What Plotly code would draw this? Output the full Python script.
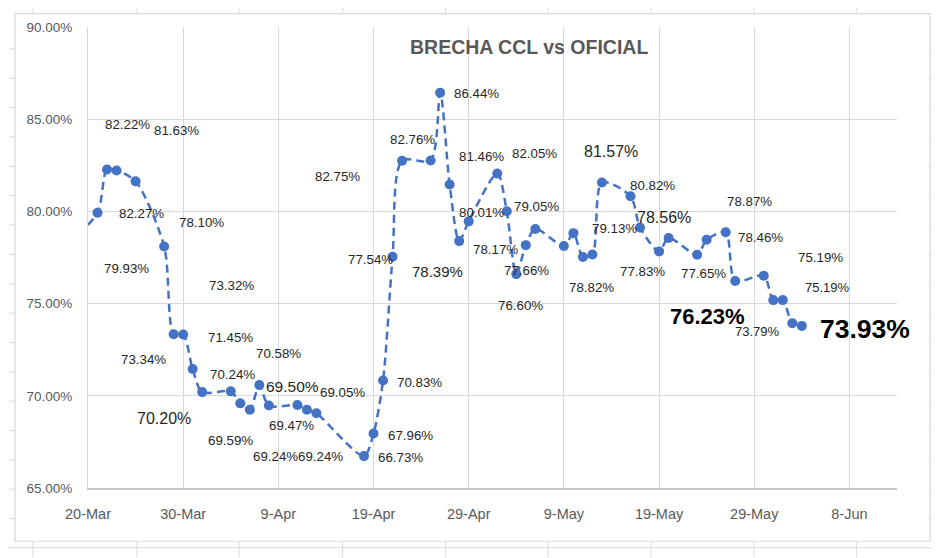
import plotly.graph_objects as go

# ---------------- data ----------------
dates = [
    "2022-03-18", "2022-03-21", "2022-03-22", "2022-03-23", "2022-03-25", "2022-03-28",
    "2022-03-29", "2022-03-30", "2022-03-31", "2022-04-01", "2022-04-04", "2022-04-05",
    "2022-04-06", "2022-04-07", "2022-04-08", "2022-04-11", "2022-04-12", "2022-04-13",
    "2022-04-18", "2022-04-19", "2022-04-20", "2022-04-21", "2022-04-22", "2022-04-25",
    "2022-04-26", "2022-04-27", "2022-04-28", "2022-04-29", "2022-05-02", "2022-05-03",
    "2022-05-04", "2022-05-05", "2022-05-06", "2022-05-09", "2022-05-10", "2022-05-11",
    "2022-05-12", "2022-05-13", "2022-05-16", "2022-05-17", "2022-05-19", "2022-05-20",
    "2022-05-23", "2022-05-24", "2022-05-26", "2022-05-27", "2022-05-30", "2022-05-31",
    "2022-06-01", "2022-06-02", "2022-06-03",
]
brecha = [
    78.30, 79.93, 82.27, 82.22, 81.63, 78.10,
    73.34, 73.32, 71.45, 70.20, 70.24, 69.59,
    69.24, 70.58, 69.47, 69.50, 69.24, 69.05,
    66.73, 67.96, 70.83, 77.54, 82.75, 82.76,
    86.44, 81.46, 78.39, 79.46, 82.05, 80.01,
    76.60, 78.17, 79.05, 78.12, 78.82, 77.53,
    77.66, 81.57, 80.82, 79.13, 77.83, 78.56,
    77.65, 78.46, 78.87, 76.23, 76.51, 75.19,
    75.19, 73.93, 73.79,
]

label_texts = [
    "82.22%", "81.63%", "82.27%", "78.10%", "79.93%", "73.32%", "71.45%", "73.34%",
    "70.58%", "70.24%", "69.50%", "69.59%", "70.20%", "69.47%", "69.24%", "69.24%",
    "69.05%", "66.73%", "67.96%", "70.83%", "77.54%", "78.39%", "82.75%", "82.76%",
    "86.44%", "81.46%", "82.05%", "80.01%", "79.05%", "78.17%", "77.66%", "76.60%",
    "78.82%", "81.57%", "79.13%", "80.82%", "78.56%", "77.83%", "77.65%", "78.87%",
    "78.46%", "75.19%", "75.19%", "76.23%", "73.79%", "73.93%",
]

title_text = "BRECHA CCL vs OFICIAL"

# ---------------- layout helpers (positions / styles) ----------------
OFF = 8                      # page body margin of the html page
PAGE_W, PAGE_H = 940, 558
W, H = PAGE_W - OFF, PAGE_H - OFF
ML, MR, MT, MB = 80, 43, 15, 70
PW, PH = W - ML - MR, H - MT - MB


def px(x):
    """page pixel x -> paper coordinate"""
    return (x - OFF - ML) / PW


def py(y):
    """page pixel y -> paper coordinate"""
    return (H - MB - (y - OFF)) / PH


# label placement in page pixels: (x, y, size, bold)
label_pos = [
    (127.5, 121, 13.3, False), (176, 127, 13.3, False), (141.5, 211, 13.3, False),
    (201, 220, 13.3, False), (126.7, 267, 13.3, False), (231.7, 284, 13.3, False),
    (230, 335.7, 13.3, False), (143, 358.3, 13.3, False), (278.5, 352.3, 13.3, False),
    (232, 373.3, 13.3, False), (292.5, 386, 15.5, False), (230, 440, 13.3, False),
    (163.7, 418.3, 16, False), (291, 424.5, 13.3, False), (275.8, 456.7, 13.3, False),
    (320.8, 456.7, 13.3, False), (342.5, 391.7, 13.3, False), (400, 457.3, 13.3, False),
    (410, 435, 13.3, False), (419.7, 381.7, 13.3, False), (370.5, 257.7, 13.3, False),
    (437, 270, 15, False), (337.8, 173.3, 13.3, False), (412, 136.7, 13.3, False),
    (476, 90, 13.3, False), (481.7, 153.3, 13.3, False), (534.8, 150.7, 13.3, False),
    (481.7, 210, 13.3, False), (536.8, 204, 13.3, False), (495.8, 247.3, 13.3, False),
    (526.7, 268.8, 13.3, False), (520.5, 304.3, 13.3, False), (591, 285.5, 13.3, False),
    (610.5, 148.3, 16, False), (614, 226.7, 13.3, False), (652.5, 183.3, 13.3, False),
    (663.7, 215, 16, False), (642.8, 269.3, 13.3, False), (703.3, 271.7, 13.3, False),
    (749, 199, 13.3, False), (760.5, 235.7, 13.3, False), (820, 255, 13.3, False),
    (827, 286, 13, False), (707.5, 315, 22, True), (757, 330, 13, False),
    (865, 327.3, 26.5, True),
]

FONT = "Liberation Sans, Arial, sans-serif"
BLUE = "#4472C4"
GRID = "#D9D9D9"

fig = go.Figure()
fig.add_trace(go.Scatter(
    x=dates, y=brecha, mode="lines+markers",
    line=dict(color=BLUE, width=2.5, dash="8px,5px", shape="spline", smoothing=0.8),
    marker=dict(color=BLUE, size=10, symbol="circle"),
    cliponaxis=True, showlegend=False, hoverinfo="x+y",
))

annotations = []
for t, (x, y, s, b) in zip(label_texts, label_pos):
    annotations.append(dict(
        x=px(x), y=py(y), xref="paper", yref="paper", text=f"<b>{t}</b>" if b else t,
        showarrow=False, xanchor="center", yanchor="middle",
        font=dict(family=FONT, size=s, color="#000000" if b else "#262626"),
    ))
annotations.append(dict(
    x=px(529), y=py(43), xref="paper", yref="paper", text=f"<b>{title_text}</b>",
    showarrow=False, xanchor="center", yanchor="middle",
    font=dict(family=FONT, size=19.5, color="#595959"),
))

# chart-area border and the spreadsheet cells around it
shapes = [dict(type="rect", xref="paper", yref="paper", x0=px(15), x1=px(930),
               y0=py(541.7), y1=py(9.5), line=dict(color=GRID, width=1.2), layer="below")]
for cx in [33, 137, 239, 342.7, 445.7, 548, 651, 754, 856.7]:
    shapes.append(dict(type="line", xref="paper", yref="paper", x0=px(cx), x1=px(cx),
                       y0=py(0), y1=py(9.5), line=dict(color=GRID, width=1)))
    shapes.append(dict(type="line", xref="paper", yref="paper", x0=px(cx), x1=px(cx),
                       y0=py(541.7), y1=py(558), line=dict(color=GRID, width=1)))
shapes.append(dict(type="line", xref="paper", yref="paper", x0=px(8), x1=px(940),
                   y0=py(548.3), y1=py(548.3), line=dict(color=GRID, width=1)))
for k in range(17):
    ry = 45.2 + 29.6 * k
    shapes.append(dict(type="line", xref="paper", yref="paper", x0=px(9), x1=px(15),
                       y0=py(ry), y1=py(ry), line=dict(color=GRID, width=1)))
    shapes.append(dict(type="line", xref="paper", yref="paper", x0=px(930), x1=px(940),
                       y0=py(ry), y1=py(ry), line=dict(color=GRID, width=1)))

fig.update_layout(
    width=W, height=H,
    margin=dict(l=ML, r=MR, t=MT, b=MB, pad=0),
    paper_bgcolor="white", plot_bgcolor="white",
    annotations=annotations, shapes=shapes,
    font=dict(family=FONT, color="#595959"),
)
fig.update_xaxes(
    type="date", range=["2022-03-20", "2022-06-13"],
    tick0="2022-03-20", dtick=10 * 86400000, tickformat="%-d-%b",
    showgrid=True, gridcolor=GRID, gridwidth=1,
    showline=True, linecolor="#C8C8C8", linewidth=1.5,
    ticks="", tickfont=dict(family=FONT, size=14.5, color="#595959"),
    ticklabelstandoff=12, zeroline=False,
)
fig.update_yaxes(
    range=[65, 90], dtick=5, tickformat=".2f", ticksuffix="%",
    showgrid=True, gridcolor=GRID, gridwidth=1,
    showline=True, linecolor=GRID, linewidth=1,
    ticks="", tickfont=dict(family=FONT, size=13.5, color="#595959"),
    ticklabelstandoff=12, zeroline=False,
)

fig.write_html("out.html")
